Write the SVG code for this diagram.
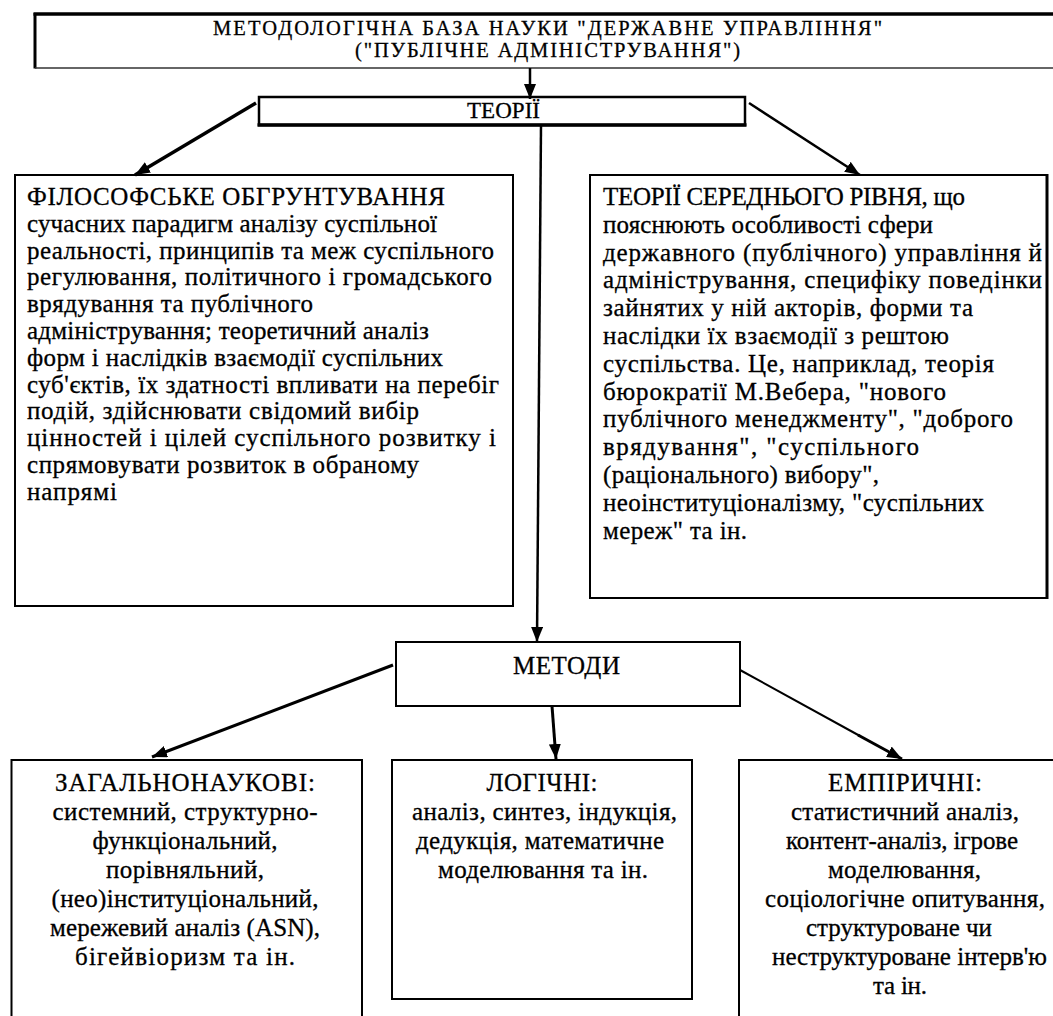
<svg xmlns="http://www.w3.org/2000/svg" width="1053" height="1016" viewBox="0 0 1053 1016">
<defs>
<style>
text{font-family:"Liberation Serif","Times New Roman",serif;fill:#000;stroke:#000;stroke-width:0.3;}
.top{font-size:20.5px;text-anchor:middle;}
.th{font-size:23px;text-anchor:middle;}
.big{font-size:25px;}
.bot{font-size:25px;text-anchor:middle;}
.box{fill:#fff;stroke:#000;stroke-width:2;}
.con{stroke:#000;fill:none;marker-end:url(#ah);}
</style>
<marker id="ah" viewBox="0 0 15 12" refX="15" refY="6" markerWidth="15" markerHeight="12" markerUnits="userSpaceOnUse" orient="auto">
<path d="M0,0 L15,6 L0,12 z" fill="#000"/>
</marker>
</defs>
<rect width="1053" height="1016" fill="#fff"/>

<g id="node-base">
<rect x="35" y="14" width="1030" height="54" fill="#fff"/>
<line x1="33.5" y1="14" x2="1060" y2="14" stroke="#000" stroke-width="3.5"/>
<line x1="35" y1="13" x2="35" y2="68.5" stroke="#000" stroke-width="3"/>
<line x1="35" y1="68" x2="1060" y2="68" stroke="#333" stroke-width="1.5"/>
<text class="top" x="547.5" y="35" textLength="669">МЕТОДОЛОГІЧНА БАЗА НАУКИ "ДЕРЖАВНЕ УПРАВЛІННЯ"</text>
<text class="top" x="547.5" y="56.5" textLength="385">("ПУБЛІЧНЕ АДМІНІСТРУВАННЯ")</text>
</g>

<g id="node-theories">
<rect x="259" y="97" width="486" height="28" fill="#fff" stroke="#000" stroke-width="2.5"/>
<line x1="257.5" y1="125" x2="746.5" y2="125" stroke="#000" stroke-width="3.5"/>
<text class="th" x="503.5" y="118" textLength="73">ТЕОРІЇ</text>
</g>

<g id="node-philosophy">
<rect class="box" x="15" y="175" width="498" height="431"/>
<text class="big" x="27" y="205" textLength="418">ФІЛОСОФСЬКЕ ОБГРУНТУВАННЯ</text>
<text class="big" x="27" y="231.8" textLength="410">сучасних парадигм аналізу суспільної</text>
<text class="big" x="27" y="258.6" textLength="467">реальності, принципів та меж суспільного</text>
<text class="big" x="27" y="285.4" textLength="465">регулювання, політичного і громадського</text>
<text class="big" x="27" y="312.2" textLength="286">врядування та публічного</text>
<text class="big" x="27" y="339" textLength="402">адміністрування; теоретичний аналіз</text>
<text class="big" x="27" y="365.8" textLength="416">форм і наслідків взаємодії суспільних</text>
<text class="big" x="27" y="392.6" textLength="472">суб'єктів, їх здатності впливати на перебіг</text>
<text class="big" x="27" y="419.4" textLength="392">подій, здійснювати свідомий вибір</text>
<text class="big" x="27" y="446.2" textLength="469">цінностей і цілей суспільного розвитку і</text>
<text class="big" x="27" y="473" textLength="392">спрямовувати розвиток в обраному</text>
<text class="big" x="27" y="499.8" textLength="90">напрямі</text>
</g>

<g id="node-middle-theories">
<rect class="box" x="590" y="175" width="457" height="423"/>
<line x1="1047" y1="174" x2="1047" y2="599" stroke="#000" stroke-width="3"/>
<text class="big" x="603" y="205" textLength="362">ТЕОРІЇ СЕРЕДНЬОГО РІВНЯ, що</text>
<text class="big" x="603" y="232.8" textLength="330">пояснюють особливості сфери</text>
<text class="big" x="603" y="260.6" textLength="439">державного (публічного) управління й</text>
<text class="big" x="603" y="288.4" textLength="439">адміністрування, специфіку поведінки</text>
<text class="big" x="603" y="316.2" textLength="370">зайнятих у ній акторів, форми та</text>
<text class="big" x="603" y="344" textLength="346">наслідки їх взаємодії з рештою</text>
<text class="big" x="603" y="371.8" textLength="391">суспільства. Це, наприклад, теорія</text>
<text class="big" x="603" y="399.6" textLength="343">бюрократії М.Вебера, "нового</text>
<text class="big" x="603" y="427.4" textLength="410">публічного менеджменту", "доброго</text>
<text class="big" x="603" y="455.2" textLength="316">врядування", "суспільного</text>
<text class="big" x="603" y="483" textLength="276">(раціонального) вибору",</text>
<text class="big" x="603" y="510.8" textLength="381">неоінституціоналізму, "суспільних</text>
<text class="big" x="603" y="538.6" textLength="144">мереж" та ін.</text>
</g>

<g id="node-methods">
<rect class="box" x="396" y="642" width="344" height="64"/>
<text class="bot" x="566.5" y="674" textLength="107">МЕТОДИ</text>
</g>

<g id="node-general">
<rect class="box" x="11.5" y="760" width="350.5" height="300"/>
<text class="bot" x="185" y="791" textLength="260">ЗАГАЛЬНОНАУКОВІ:</text>
<text class="bot" x="185" y="820" textLength="265">системний, структурно-</text>
<text class="bot" x="185" y="849" textLength="185">функціональний,</text>
<text class="bot" x="185" y="878" textLength="158">порівняльний,</text>
<text class="bot" x="185" y="907" textLength="267">(нео)інституціональний,</text>
<text class="bot" x="185" y="936" textLength="270">мережевий аналіз (ASN),</text>
<text class="bot" x="185" y="965" textLength="220">бігейвіоризм та ін.</text>
</g>

<g id="node-logical">
<rect class="box" x="392" y="760" width="300" height="239"/>
<text class="bot" x="542" y="791" textLength="111">ЛОГІЧНІ:</text>
<text class="bot" x="544.5" y="820" textLength="265">аналіз, синтез, індукція,</text>
<text class="bot" x="540" y="849" textLength="248">дедукція, математичне</text>
<text class="bot" x="543" y="878" textLength="210">моделювання та ін.</text>
</g>

<g id="node-empirical">
<rect class="box" x="739" y="760" width="330" height="300"/>
<text class="bot" x="905" y="791" textLength="154">ЕМПІРИЧНІ:</text>
<text class="bot" x="905" y="820" textLength="228">статистичний аналіз,</text>
<text class="bot" x="902" y="849" textLength="232">контент-аналіз, ігрове</text>
<text class="bot" x="904.5" y="878" textLength="153">моделювання,</text>
<text class="bot" x="905" y="907" textLength="280">соціологічне опитування,</text>
<text class="bot" x="899" y="936" textLength="186">структуроване чи</text>
<text class="bot" x="909.5" y="965" textLength="275">неструктуроване інтерв'ю</text>
<text class="bot" x="900" y="994" textLength="54">та ін.</text>
</g>

<g id="connectors">
<line class="con" x1="530" y1="68" x2="530" y2="99" stroke-width="2.5"/>
<line class="con" x1="256" y1="103" x2="135" y2="175" stroke-width="3.5"/>
<line class="con" x1="749" y1="103" x2="860" y2="175" stroke-width="2.5"/>
<line class="con" x1="541" y1="125" x2="537" y2="642" stroke-width="2.5"/>
<line class="con" x1="393" y1="665" x2="152" y2="757" stroke-width="3"/>
<line class="con" x1="552" y1="706" x2="556" y2="759" stroke-width="3"/>
<line x1="740" y1="670" x2="860" y2="736" stroke="#000" stroke-width="2"/>
<line class="con" x1="858" y1="735" x2="902" y2="759" stroke-width="3"/>
</g>
</svg>
